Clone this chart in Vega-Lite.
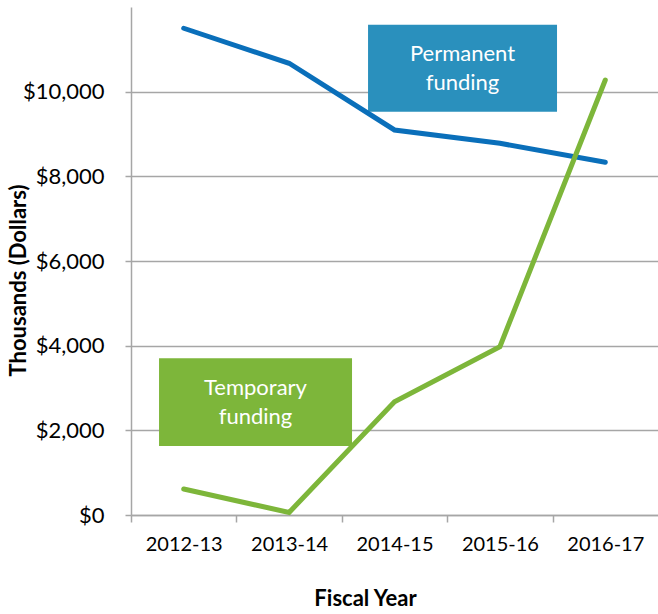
{
  "$schema": "https://vega.github.io/schema/vega-lite/v6.json",
  "width": 527,
  "height": 508,
  "autosize": {"type": "none"},
  "padding": {"left": 131, "top": 7, "right": 0, "bottom": 99},
  "background": "white",
  "config": {"view": {"stroke": null}, "font": "Lato"},
  "datasets": {
    "funding": [
      {"year": "2012-13", "idx": 0, "type": "Permanent", "value": 11498},
      {"year": "2013-14", "idx": 1, "type": "Permanent", "value": 10671},
      {"year": "2014-15", "idx": 2, "type": "Permanent", "value": 9095},
      {"year": "2015-16", "idx": 3, "type": "Permanent", "value": 8781},
      {"year": "2016-17", "idx": 4, "type": "Permanent", "value": 8332},
      {"year": "2012-13", "idx": 0, "type": "Temporary", "value": 614},
      {"year": "2013-14", "idx": 1, "type": "Temporary", "value": 60},
      {"year": "2014-15", "idx": 2, "type": "Temporary", "value": 2677},
      {"year": "2015-16", "idx": 3, "type": "Temporary", "value": 3976},
      {"year": "2016-17", "idx": 4, "type": "Temporary", "value": 10276}
    ],
    "boxes": [
      {"type": "Permanent", "label": ["Permanent", "funding"], "x1": 1.749, "x2": 3.542, "y1": 9528, "y2": 11580, "tx": 2.645, "ty": 10554},
      {"type": "Temporary", "label": ["Temporary", "funding"], "x1": -0.234, "x2": 1.597, "y1": 1627, "y2": 3703, "tx": 0.681, "ty": 2665}
    ]
  },
  "layer": [
    {
      "data": {"name": "boxes"},
      "mark": {"type": "rect"},
      "encoding": {
        "x": {"field": "x1", "type": "quantitative", "scale": {"domain": [-0.5, 4.5], "nice": false, "zero": false},
          "axis": {
            "values": [-0.5, 0.5, 1.5, 2.5, 3.5],
            "labelExpr": "['2012-13','2013-14','2014-15','2015-16','2016-17'][round(datum.value + 0.5)]",
            "labelOffset": 52.7,
            "labelFlush": false,
            "labelOverlap": false,
            "labelFontSize": 20,
            "labelColor": "#000000",
            "labelPadding": 12,
            "tickSize": 7,
            "tickColor": "#a6a6a6",
            "tickWidth": 1.5,
            "domainColor": "#a6a6a6",
            "domainWidth": 1.5,
            "grid": false,
            "title": "Fiscal Year",
            "titleFontSize": 22,
            "titleFontWeight": "bold",
            "titleColor": "#000000",
            "titleX": 234,
            "titleY": 73
          }
        },
        "x2": {"field": "x2"},
        "y": {"field": "y1", "type": "quantitative", "scale": {"domain": [0, 12000], "nice": false},
          "axis": {
            "values": [0, 2000, 4000, 6000, 8000, 10000],
            "format": "$,.0f",
            "labelFlush": false,
            "labelOverlap": false,
            "labelFontSize": 22,
            "labelColor": "#000000",
            "labelPadding": 21,
            "tickSize": 6,
            "tickColor": "#a6a6a6",
            "tickWidth": 1.5,
            "domainColor": "#a6a6a6",
            "domainWidth": 1.5,
            "grid": true,
            "gridColor": "#a6a6a6",
            "gridWidth": 1.5,
            "title": "Thousands (Dollars)",
            "titleFontSize": 22,
            "titleFontWeight": "bold",
            "titleColor": "#000000",
            "titleBaseline": "middle",
            "titleX": -113,
            "titleY": 273
          }
        },
        "y2": {"field": "y2"},
        "color": {"field": "type", "type": "nominal", "scale": {"domain": ["Permanent", "Temporary"], "range": ["#2a90bd", "#7db63a"]}, "legend": null}
      }
    },
    {
      "data": {"name": "funding"},
      "mark": {"type": "line", "strokeWidth": 5, "strokeCap": "round", "strokeJoin": "miter"},
      "encoding": {
        "x": {"field": "idx", "type": "quantitative"},
        "y": {"field": "value", "type": "quantitative"},
        "color": {"field": "type", "type": "nominal", "scale": {"domain": ["Permanent", "Temporary"], "range": ["#0a6fba", "#7db63a"]}, "legend": null}
      }
    },
    {
      "data": {"name": "boxes"},
      "mark": {"type": "text", "color": "white", "fontSize": 22, "lineHeight": 29, "align": "center", "baseline": "middle", "dy": -14},
      "encoding": {
        "x": {"field": "tx", "type": "quantitative"},
        "y": {"field": "ty", "type": "quantitative"},
        "text": {"field": "label"}
      }
    }
  ],
  "resolve": {"scale": {"color": "independent"}}
}
